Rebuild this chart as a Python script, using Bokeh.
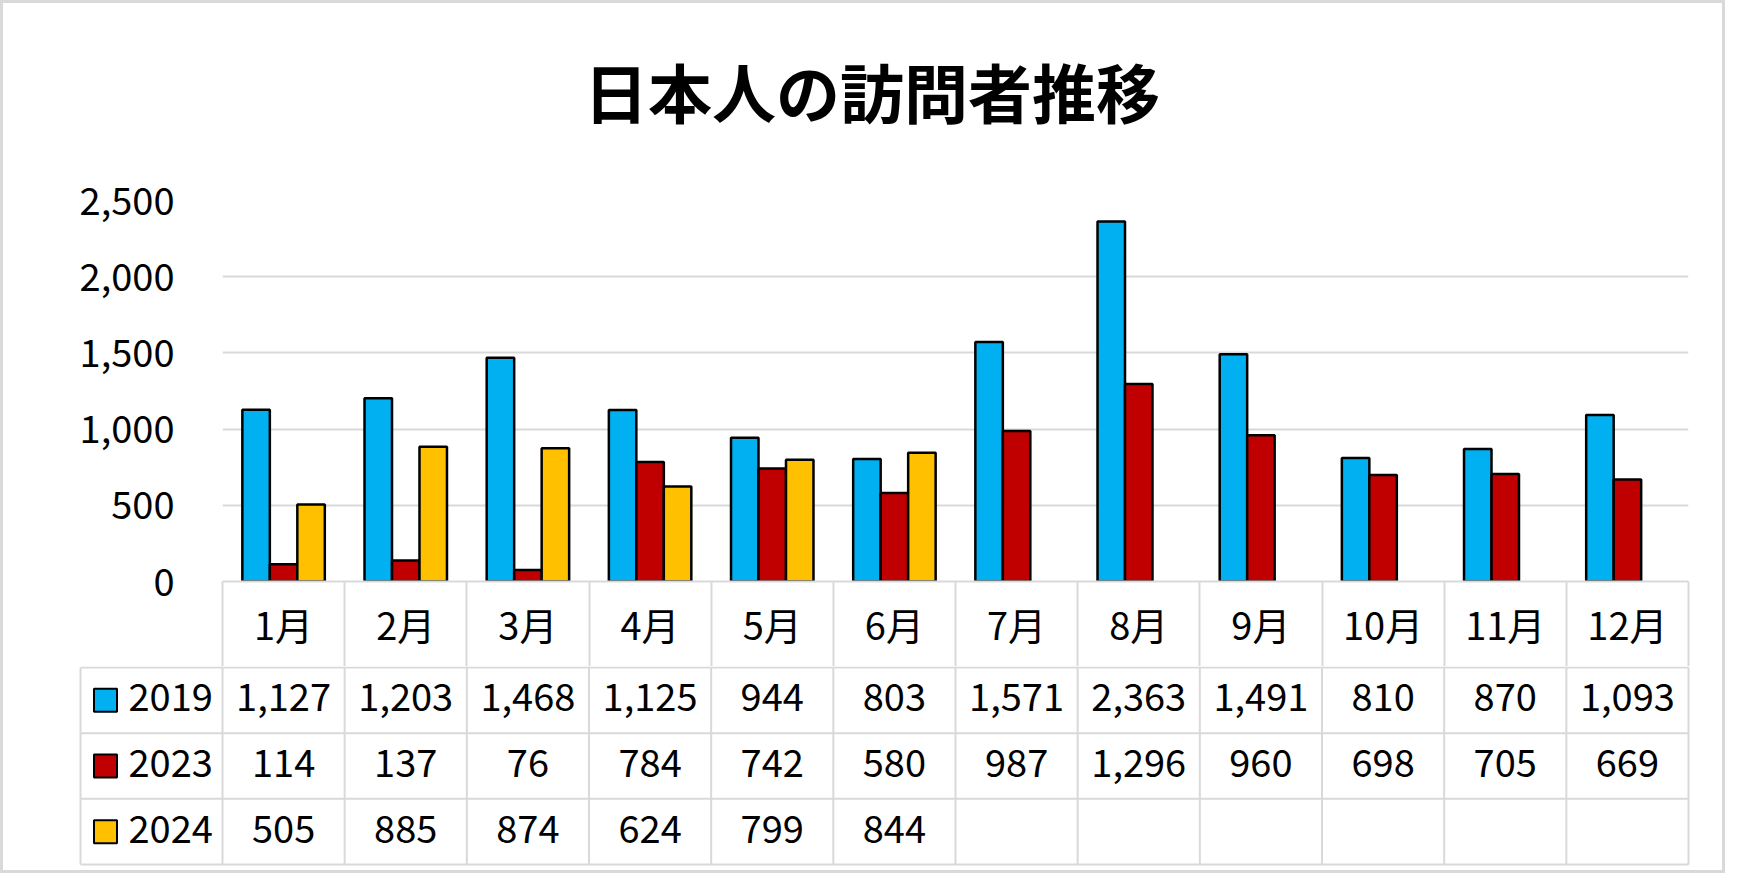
from bokeh.plotting import figure
from bokeh.layouts import column
from bokeh.models import FixedTicker, NumeralTickFormatter, Range1d, ColumnDataSource
from bokeh.core.properties import value
from bokeh.embed import file_html
from bokeh.resources import INLINE

# ---------------- data ----------------
chart_title = "日本人の訪問者推移"
months = ["1月", "2月", "3月", "4月", "5月", "6月", "7月", "8月", "9月", "10月", "11月", "12月"]
series_names = ["2019", "2023", "2024"]
v2019 = [1127, 1203, 1468, 1125, 944, 803, 1571, 2363, 1491, 810, 870, 1093]
v2023 = [114, 137, 76, 784, 742, 580, 987, 1296, 960, 698, 705, 669]
v2024 = [505, 885, 874, 624, 799, 844, None, None, None, None, None, None]
y_ticks = [0, 500, 1000, 1500, 2000, 2500]

# ---------------- style ----------------
colors = ["#00B0F0", "#C00000", "#FFC000"]
FONT = "Noto Sans CJK JP"
GRID = "#D9D9D9"
FS = "38px"

series = [v2019, v2023, v2024]
n = len(months)

W = 1719                      # figure width (3px css border each side -> 1725)
FRAME_L, FRAME_R = 219, 1685  # frame x extent in figure px
unit = (FRAME_R - FRAME_L) / n
bar_w = 0.225
CAT_ROW = 85
TITLE_H = 150

# ---------------- title strip ----------------
pT = figure(width=W, height=TITLE_H, x_range=Range1d(0, W), y_range=Range1d(TITLE_H, 0),
            output_backend="svg", toolbar_location=None,
            x_axis_location=None, y_axis_location=None, min_border=0)
pT.frame_align = False
pT.outline_line_color = None
pT.xgrid.visible = False
pT.ygrid.visible = False
pT.text(x=[W / 2 + 9], y=[86], text=[chart_title], text_align="center",
        text_baseline="middle", text_font=value(FONT), text_font_size=value("64px"),
        text_font_style="bold", text_color="black")

# ---------------- chart figure ----------------
hA = 663 - TITLE_H
pA = figure(width=W, height=hA, x_range=Range1d(0, n), y_range=Range1d(0, y_ticks[-1]),
            output_backend="svg", toolbar_location=None,
            min_border_left=FRAME_L, min_border_right=W - FRAME_R,
            min_border_top=197 - TITLE_H, min_border_bottom=CAT_ROW)
pA.frame_align = False
pA.outline_line_color = None
pA.background_fill_color = "white"
pA.border_fill_color = "white"

yax = pA.yaxis[0]
yax.ticker = FixedTicker(ticks=y_ticks)
yax.formatter = NumeralTickFormatter(format="0,0")
yax.axis_line_color = None
yax.major_tick_line_color = None
yax.minor_tick_line_color = None
yax.major_tick_out = 0
yax.minor_tick_out = 0
yax.major_label_standoff = 48
yax.major_label_text_font = FONT
yax.major_label_text_font_size = FS
yax.major_label_text_color = "black"

pA.ygrid.ticker = FixedTicker(ticks=y_ticks)
pA.ygrid.grid_line_color = GRID
pA.ygrid.grid_line_width = 2
pA.xgrid.grid_line_color = None

centers = [i + 0.5 for i in range(n)]
xax = pA.xaxis[0]
xax.ticker = FixedTicker(ticks=centers, minor_ticks=list(range(n + 1)))
xax.major_label_overrides = {c: m for c, m in zip(centers, months)}
xax.major_tick_line_color = None
xax.major_tick_out = 0
xax.major_tick_in = 0
xax.minor_tick_out = CAT_ROW
xax.minor_tick_in = 0
xax.minor_tick_line_color = GRID
xax.minor_tick_line_width = 2
xax.axis_line_color = GRID
xax.axis_line_width = 2
xax.major_label_standoff = -71
xax.major_label_text_font = FONT
xax.major_label_text_font_size = FS
xax.major_label_text_color = "black"

for j, (vals, col) in enumerate(zip(series, colors)):
    xs = [i + 0.5 + (j - 1) * bar_w for i, v in enumerate(vals) if v is not None]
    tops = [v for v in vals if v is not None]
    src = ColumnDataSource(dict(x=xs, top=tops))
    pA.vbar(x="x", top="top", bottom=0, width=bar_w, source=src,
            fill_color=col, line_color="black", line_width=2.5)

# ---------------- table figure ----------------
hB = 204
row_top_px, row_h = 1, 65.67
leg_left = -142 / unit        # legend column width in category units
pB = figure(width=W, height=hB,
            x_range=Range1d(-FRAME_L / unit, n + (W - FRAME_R) / unit),
            y_range=Range1d(len(series) + (hB - row_top_px - len(series) * row_h) / row_h,
                            -row_top_px / row_h),
            output_backend="svg", toolbar_location=None,
            x_axis_location=None, y_axis_location=None, min_border=0)
pB.frame_align = False
pB.outline_line_color = None
pB.xgrid.visible = False
pB.ygrid.visible = False

rows = list(range(len(series) + 1))
pB.segment(x0=[leg_left] * len(rows), x1=[n] * len(rows), y0=rows, y1=rows,
           line_color=GRID, line_width=2)
vx = [leg_left] + list(range(n + 1))
pB.segment(x0=vx, x1=vx, y0=[0] * len(vx), y1=[len(series)] * len(vx),
           line_color=GRID, line_width=2)

tx, ty, tt = [], [], []
for j, vals in enumerate(series):
    for i, v in enumerate(vals):
        if v is not None:
            tx.append(i + 0.5)
            ty.append(j + 0.5)
            tt.append(f"{v:,}")
pB.text(x=tx, y=ty, text=tt, text_align="center", text_baseline="middle", y_offset=-3,
        text_font=value(FONT), text_font_size=value(FS), text_color="black")

ry = [j + 0.5 for j in range(len(series))]
pB.scatter(x=[leg_left + 25 / unit] * len(series), y=ry, marker="square", size=23,
           fill_color=colors, line_color="black", line_width=2)
pB.text(x=[leg_left + 48 / unit] * len(series), y=ry, text=series_names, y_offset=-3,
        text_align="left", text_baseline="middle",
        text_font=value(FONT), text_font_size=value(FS), text_color="black")

layout = column(pT, pA, pB, spacing=0, styles={"border": "3px solid #D9D9D9"})
open("out.html", "w").write(file_html(layout, INLINE))
